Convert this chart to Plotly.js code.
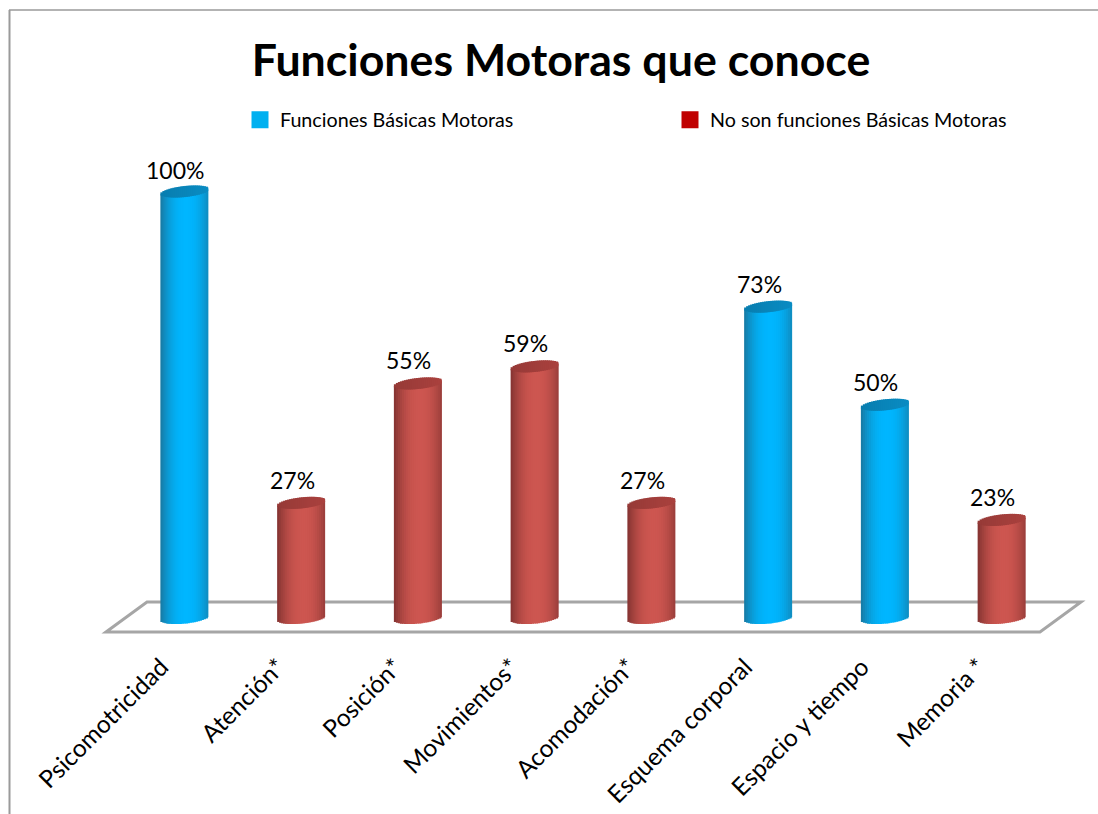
<!DOCTYPE html>
<html>
<head>
<meta charset="utf-8">
<script src="https://cdn.plot.ly/plotly-3.0.1.min.js"></script>
<style>html,body{margin:0;padding:0;background:#fff}#chart{width:1098px;height:814px}</style>
</head>
<body>
<div id="chart"></div>
<script>
const categories = ["Psicomotricidad","Atención*","Posición*","Movimientos*","Acomodación*","Esquema corporal","Espacio y tiempo","Memoria *"];
const basicasValues = [100,null,null,null,null,73,50,null];
const noBasicasValues = [null,27,55,59,27,null,null,23];
const seriesNames = ["Funciones Básicas Motoras","No son funciones Básicas Motoras"];
const titleText = "Funciones Motoras que conoce";

const W=1098,H=814,mL=126,mR=38,mT=130,mB=174;
const plotW=W-mL-mR, plotH=H-mT-mB;
const yMin=-5.16,yMax=114.42;
const unit=plotH/(yMax-yMin);
const catPx=plotW/categories.length;
const barPx=48, stripPx=2, nStrips=Math.round(barPx/stripPx);
const capH=5.5, tilt=2.5;
const fontFam='Lato, "Open Sans", sans-serif';

function mix(a,b,t){return 'rgb('+a.map((v,i)=>Math.round(v+(b[i]-v)*t)).join(',')+')';}
const styles=[
 {legend:'#00B0F0',edge:[24,120,160],mid:[0,182,255],capA:[8,125,175],capB:[10,140,195]},
 {legend:'#C00000',edge:[130,50,48],mid:[205,86,80],capA:[150,58,55],capB:[170,65,62]}
];
const seriesValues=[basicasValues,noBasicasValues];
const traces=[];
seriesValues.forEach((vals,s)=>{
  traces.push({type:'bar',name:seriesNames[s],x:categories,y:vals,width:12/catPx,legend:s?'legend2':'legend',
    marker:{color:styles[s].legend,line:{color:styles[s].legend,width:6}},hoverinfo:'x+y'});
});
seriesValues.forEach((vals,s)=>{
  const st=styles[s];
  for(let k=0;k<nStrips;k++){
    const dx=(k+0.5)/nStrips*2-1;
    const arc=Math.sqrt(Math.max(0,1-dx*dx))*capH/unit;
    const tl=tilt*dx/unit;
    const off=(-barPx/2+k*stripPx)/catPx;
    const wd=(k===nStrips-1?stripPx:stripPx+1.5)/catPx;
    const shade=Math.pow(Math.min(1,Math.abs(dx-0.08)/1.08),2.2);
    const col=mix(st.mid,st.edge,shade);
    const base=vals.map(v=>v===null?null:tl-arc);
    traces.push({type:'bar',x:categories,base:base,
      y:vals.map((v,i)=>v===null?null:v+tl-arc-base[i]+0.3),offset:off,width:wd,
      marker:{color:col,line:{width:0}},showlegend:false,hoverinfo:'skip'});
  }
  for(let k=0;k<nStrips;k++){
    const dx=(k+0.5)/nStrips*2-1;
    const arc=Math.sqrt(Math.max(0,1-dx*dx))*capH/unit;
    const tl=tilt*dx/unit;
    const off=(-barPx/2+k*stripPx)/catPx;
    const wd=(k===nStrips-1?stripPx:stripPx+1.5)/catPx;
    const capCol=mix(st.capA,st.capB,(dx+1)/2);
    traces.push({type:'bar',x:categories,base:vals.map(v=>v===null?null:v+tl-arc),
      y:vals.map(v=>v===null?null:2*arc),offset:off,width:wd,
      marker:{color:capCol,line:{width:0}},showlegend:false,hoverinfo:'skip'});
  }
});
const px=x=>(x-mL)/plotW, py=y=>(H-mB-y)/plotH;
const annotations=[];
seriesValues.forEach(vals=>vals.forEach((v,i)=>{
  if(v!==null) annotations.push({x:categories[i],y:v,xref:'x',yref:'y',text:v+'%',showarrow:false,
    yanchor:'middle',yshift:v===100?22:23,xshift:-9,font:{family:fontFam,size:23,color:'#000'}});
}));
const shapes=[
 {type:'path',xref:'paper',yref:'paper',layer:'below',
  path:`M ${px(106)} ${py(632)} L ${px(147)} ${py(602)} L ${px(1081)} ${py(602)} L ${px(1040)} ${py(632)} Z`,
  line:{color:'#A6A6A6',width:3},fillcolor:'rgba(255,255,255,0)'},
 {type:'line',xref:'paper',yref:'paper',x0:px(9.5),y0:py(10),x1:px(9.5),y1:py(814),line:{color:'#9A9A9A',width:2}},
 {type:'line',xref:'paper',yref:'paper',x0:px(9),y0:py(10),x1:px(1098),y1:py(10),line:{color:'#9A9A9A',width:1.5}}
];
const legendBase={orientation:'h',yanchor:'middle',y:py(120),xanchor:'left',
  font:{family:fontFam,size:19.7,color:'#000'},bgcolor:'rgba(0,0,0,0)',itemclick:false,itemdoubleclick:false};
const layout={
  width:W,height:H,margin:{l:mL,r:mR,t:mT,b:mB,pad:0},
  paper_bgcolor:'#fff',plot_bgcolor:'rgba(0,0,0,0)',barmode:'overlay',
  title:{text:'<b>'+titleText+'</b>',x:561/W,xanchor:'center',y:1-60/H,yanchor:'middle',font:{family:fontFam,size:44.7,color:'#000'}},
  legend:Object.assign({},legendBase,{x:px(240)}),
  legend2:Object.assign({},legendBase,{x:px(670)}),
  xaxis:{type:'category',categoryorder:'array',categoryarray:categories,range:[-0.5,7.5],showline:false,showgrid:false,zeroline:false,ticks:'',
    tickangle:-45,ticklabelstandoff:7,ticklabelshift:-23,tickfont:{family:fontFam,size:24.5,color:'#000'},automargin:false},
  yaxis:{range:[yMin,yMax],visible:false,showgrid:false,zeroline:false},
  shapes:shapes,annotations:annotations,showlegend:true
};
Plotly.newPlot('chart',traces,layout,{staticPlot:true,displayModeBar:false});
</script>
</body>
</html>
